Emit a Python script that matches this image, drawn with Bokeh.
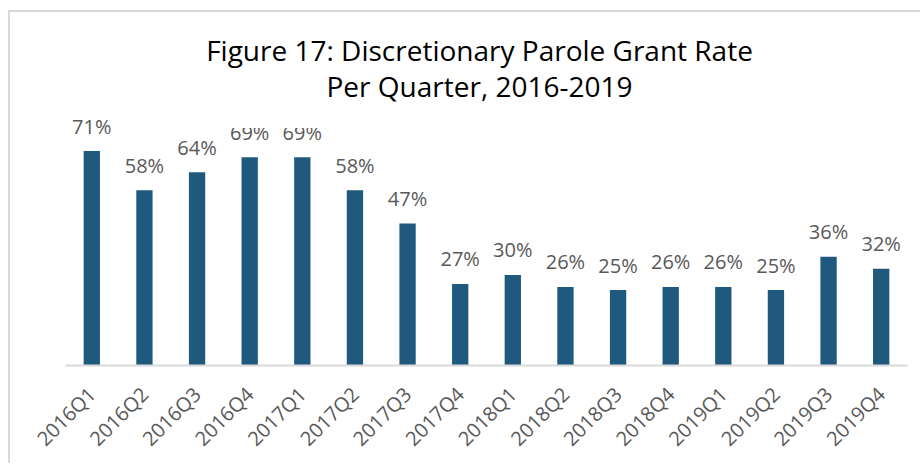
from math import pi
from bokeh.plotting import figure
from bokeh.models import ColumnDataSource, Range1d, Label, BoxAnnotation
from bokeh.core.properties import value
from bokeh.embed import file_html
from bokeh.resources import INLINE

# ---- data ----
quarters = ["2016Q1", "2016Q2", "2016Q3", "2016Q4",
            "2017Q1", "2017Q2", "2017Q3", "2017Q4",
            "2018Q1", "2018Q2", "2018Q3", "2018Q4",
            "2019Q1", "2019Q2", "2019Q3", "2019Q4"]
grant_rate = [71, 58, 64, 69, 69, 58, 47, 27, 30, 26, 25, 26, 26, 25, 36, 32]
rate_labels = [f"{v}%" for v in grant_rate]
title_lines = ["Figure 17: Discretionary Parole Grant Rate", "Per Quarter, 2016-2019"]

FONT = "Open Sans"
BAR = "#1F5A7E"
GREY = "#595959"

src = ColumnDataSource(dict(q=quarters, rate=grant_rate, label=rate_labels))

p = figure(x_range=quarters, y_range=Range1d(0, 116.9),
           width=912, height=453,
           output_backend="svg", toolbar_location=None,
           y_axis_location=None,
           min_border_left=55, min_border_right=15,
           min_border_top=0, min_border_bottom=100,
           background_fill_color="white", border_fill_color="white")
p.title.visible = False
p.styles = {"border-left": "2px solid #d9d9d9",
            "border-top": "2px solid #d9d9d9",
            "margin-left": "8px",
            "margin-top": "10px"}
p.outline_line_color = None
p.grid.visible = False

p.vbar(x="q", top="rate", width=0.31, source=src,
       fill_color=BAR, line_color=None)

p.text(x="q", y="rate", text="label", source=src,
       text_align="center", text_baseline="alphabetic", y_offset=-25,
       text_font=value(FONT), text_font_size="20px", text_color=GREY)

# title box (covers overlapping labels like the original)
p.add_layout(BoxAnnotation(left=135, right=695, bottom=237.5, top=400,
                           left_units="screen", right_units="screen",
                           bottom_units="screen", top_units="screen",
                           fill_color="white", fill_alpha=1.0,
                           line_color=None, level="annotation"))
for line, ybase in zip(title_lines, [316, 280]):
    p.add_layout(Label(x=414, y=ybase, x_units="screen", y_units="screen",
                       text=line, text_align="center", text_baseline="alphabetic",
                       text_font=FONT, text_font_size="28px", text_color="#000000"))

ax = p.xaxis[0]
ax.axis_line_color = "#d9d9d9"
ax.axis_line_width = 2
ax.major_tick_line_color = None
ax.minor_tick_line_color = None
ax.major_label_orientation = pi / 4
ax.major_label_standoff = 19
ax.major_label_text_font = FONT
ax.major_label_text_font_size = "20px"
ax.major_label_text_color = GREY

open("out.html", "w").write(file_html(p, INLINE))
